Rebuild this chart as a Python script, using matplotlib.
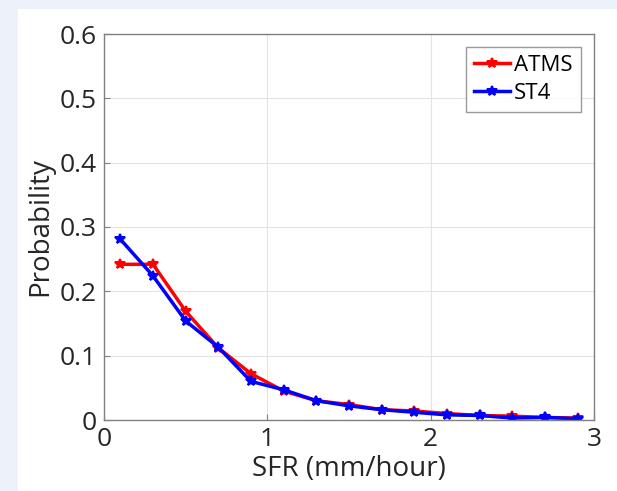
import matplotlib
matplotlib.use("Agg")
import matplotlib.pyplot as plt
from matplotlib.patches import Rectangle

sfr = [0.1, 0.3, 0.5, 0.7, 0.9, 1.1, 1.3, 1.5, 1.7, 1.9, 2.1, 2.3, 2.5, 2.7, 2.9]
atms = [0.242, 0.242, 0.169, 0.112, 0.072, 0.045, 0.030, 0.024, 0.016, 0.014, 0.010, 0.007, 0.006, 0.004, 0.003]
st4 = [0.281, 0.224, 0.154, 0.113, 0.060, 0.047, 0.030, 0.022, 0.016, 0.012, 0.008, 0.007, 0.003, 0.004, 0.002]
xticks = [0, 1, 2, 3]
yticks = [0, 0.1, 0.2, 0.3, 0.4, 0.5, 0.6]
ytick_labels = ["0", "0.1", "0.2", "0.3", "0.4", "0.5", "0.6"]

plt.rcParams['font.family'] = ['Open Sans', 'DejaVu Sans']

fig = plt.figure(figsize=(6.17, 4.91), dpi=100)
fig.patch.set_facecolor('#edf1f9')
fig.patches.append(Rectangle((18/617, 0), 1 - 18/617, (491-9)/491, transform=fig.transFigure,
                             facecolor='white', edgecolor='none', zorder=-10))

ax = fig.add_axes([104/617, 71/491, 490/617, 386/491])
ax.set_zorder(5)
ax.set_facecolor('white')
ax.plot(sfr, atms, color='#ff0000', lw=2.5, marker='*', ms=7, mew=1.5, label='ATMS')
ax.plot(sfr, st4, color='#0000ff', lw=2.5, marker='*', ms=7, mew=1.5, label='ST4')
ax.set_xlim(0, 3)
ax.set_ylim(0, 0.6)
ax.set_xticks(xticks)
ax.set_xticklabels([str(v) for v in xticks])
ax.set_yticks(yticks)
ax.set_yticklabels(ytick_labels)
ax.grid(True, color='#e3e3e3', lw=0.8)
ax.set_axisbelow(True)
ax.tick_params(direction='in', length=4, color='#808080', labelsize=19, labelcolor='#262626', pad=5)
for s in ax.spines.values():
    s.set_color('#808080')
    s.set_linewidth(1.0)
ax.set_xlabel('SFR (mm/hour)', fontsize=20, color='#262626', labelpad=2)
ax.set_ylabel('Probability', fontsize=20, color='#262626', labelpad=4)
leg = ax.legend(loc='upper right', fontsize=16, frameon=True, fancybox=False,
                edgecolor='#808080', handlelength=1.6, borderaxespad=0.6,
                handletextpad=0.2, borderpad=0.35, labelspacing=0.3,
                bbox_to_anchor=(1.0, 1.0))
leg.get_frame().set_linewidth(1.0)
fig.savefig('out.png', dpi=100, facecolor=fig.get_facecolor())
